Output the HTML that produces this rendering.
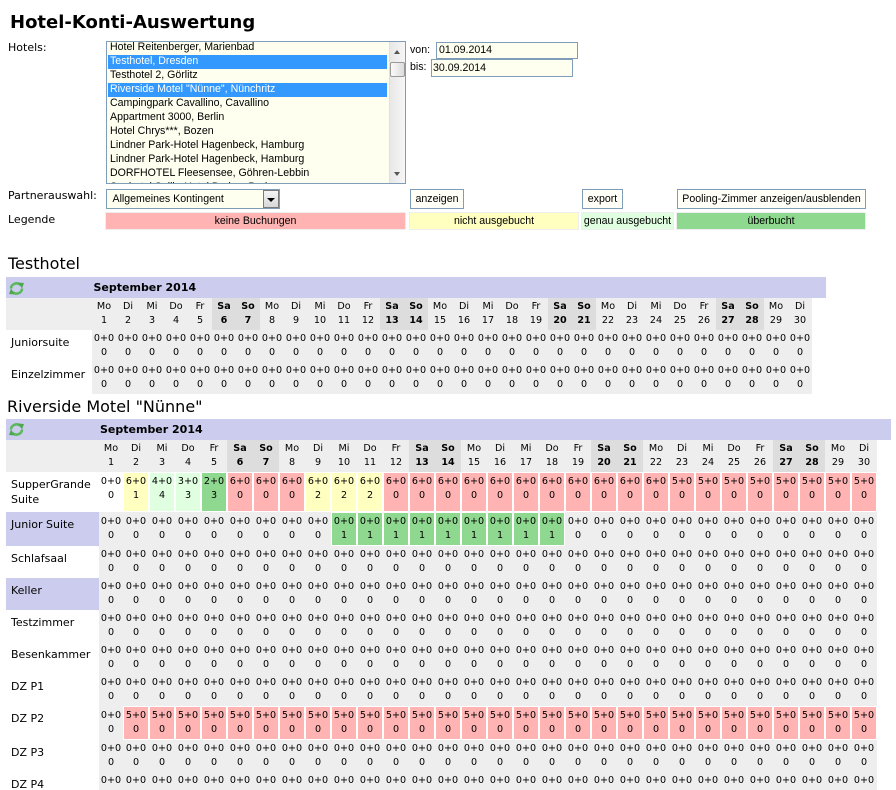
<!DOCTYPE html>
<html><head><meta charset="utf-8">
<style>
*{margin:0;padding:0;box-sizing:border-box}
html,body{width:896px;height:790px;overflow:hidden;background:#fff}
body{position:relative;font-family:"DejaVu Sans",Verdana,sans-serif;color:#000}
.a{position:absolute;white-space:nowrap}
.ls{font-family:"Liberation Sans",Arial,sans-serif;font-size:10.6px}
.lab{font-size:11px;line-height:14px}
.box{position:absolute;border:1px solid #7f9db9;background:#fffff0;overflow:hidden;white-space:nowrap}
.it{position:absolute;left:1px;width:279px;height:14px;line-height:13px;padding-left:2px}
.sel{background:#3399ff;color:#fff}
.btn{position:absolute;top:189px;height:20px;border:1px solid #7f9db9;background:#fffff8;text-align:center;line-height:18px}
.lg{position:absolute;top:212px;height:18px;border:1px solid #eee;text-align:center;line-height:16px}
.bar{position:absolute;height:21px;background:#ccccee}
.ttl{font-size:16px;line-height:20px}
.mon{font-weight:bold;font-size:11px;line-height:14px}
table{position:absolute;border-collapse:collapse;table-layout:fixed;font-size:9.6px;line-height:14px}
col{width:24px}
.rv col{width:26px}
.rv col.c0{width:93px}
.rv col.c1{width:24px}
td{padding:2px 0 0 0;vertical-align:top;text-align:center;background:#eee;white-space:nowrap;overflow:hidden}
td.l{text-align:left;background:#fff;font-size:11px;line-height:15px;padding:5px 0 0 5px}
td.lv{background:#ccccee}
td.w{background:#ddd;font-weight:bold}
tr.c td{padding-top:3px}
tr.c td.l{padding-top:5px}
td.wt{background:#fff}
td.p{background:#ffb3b3;box-shadow:inset 0 0 0 1px #fff}
td.y{background:#ffffc0;box-shadow:inset 0 0 0 1px #fff}
td.g{background:#e0ffe0;box-shadow:inset 0 0 0 1px #fff}
td.G{background:#8fd88f;box-shadow:inset 0 0 0 1px #fff}
</style></head>
<body>

<div class="a" style="left:10px;top:11.5px;font-weight:bold;font-size:18px;line-height:22px">Hotel-Konti-Auswertung</div>

<div class="a lab" style="left:8px;top:41px">Hotels:</div>
<div class="box ls" style="left:106px;top:41px;width:300px;height:143px">
  <div class="it" style="top:-1px">Hotel Reitenberger, Marienbad</div>
  <div class="it sel" style="top:13px">Testhotel, Dresden</div>
  <div class="it" style="top:27px">Testhotel 2, Görlitz</div>
  <div class="it sel" style="top:41px">Riverside Motel "Nünne", Nünchritz</div>
  <div class="it" style="top:55px">Campingpark Cavallino, Cavallino</div>
  <div class="it" style="top:69px">Appartment 3000, Berlin</div>
  <div class="it" style="top:83px">Hotel Chrys***, Bozen</div>
  <div class="it" style="top:97px">Lindner Park-Hotel Hagenbeck, Hamburg</div>
  <div class="it" style="top:111px">Lindner Park-Hotel Hagenbeck, Hamburg</div>
  <div class="it" style="top:125px">DORFHOTEL Fleesensee, Göhren-Lebbin</div>
  <div class="it" style="top:139px">Seehotel Sellin-Hotel Baden, Baden</div>
  <div style="position:absolute;left:282px;top:0;width:16px;height:141px;background:linear-gradient(to right,#e8e8e8,#f6f6f6);border-left:1px solid #e0e0e0"></div>
  <div style="position:absolute;left:287px;top:8px;width:0;height:0;border-left:3.5px solid transparent;border-right:3.5px solid transparent;border-bottom:4px solid #555"></div>
  <div style="position:absolute;left:283px;top:20px;width:15px;height:15px;border:1px solid #9a9a9a;border-radius:2px;background:linear-gradient(to right,#fafafa,#dcdcdc)"></div>
  <div style="position:absolute;left:287px;top:130px;width:0;height:0;border-left:3.5px solid transparent;border-right:3.5px solid transparent;border-top:4px solid #555"></div>
</div>

<div class="a ls" style="left:410px;top:43px;line-height:14px">von:</div>
<div class="box ls" style="left:436px;top:42px;width:142px;height:17px;line-height:15px;padding-left:2px">01.09.2014</div>
<div class="a ls" style="left:410px;top:60px;line-height:14px">bis:</div>
<div class="box ls" style="left:431px;top:59px;width:142px;height:18px;line-height:16px;padding-left:1px">30.09.2014</div>

<div class="a lab" style="left:8px;top:189px">Partnerauswahl:</div>
<div class="box ls" style="left:106px;top:189px;width:174px;height:20px;line-height:18px;padding-left:5.5px">Allgemeines Kontingent
  <div style="position:absolute;left:156px;top:0;width:16px;height:18px;border:1px solid #7a7a7a;background:linear-gradient(#f4f4f4,#d8d8d8)"></div>
  <div style="position:absolute;left:160px;top:8px;width:0;height:0;border-left:4px solid transparent;border-right:4px solid transparent;border-top:4px solid #000"></div>
</div>

<div class="btn ls" style="left:410px;width:54px">anzeigen</div>
<div class="btn ls" style="left:582px;width:41px">export</div>
<div class="btn ls" style="left:677px;width:189px">Pooling-Zimmer anzeigen/ausblenden</div>

<div class="a lab" style="left:8px;top:213px">Legende</div>
<div class="lg ls" style="left:105px;width:301px;background:#ffb3b3">keine Buchungen</div>
<div class="lg ls" style="left:409px;width:170px;background:#ffffc0">nicht ausgebucht</div>
<div class="lg ls" style="left:581px;width:93px;background:#e0ffe0">genau ausgebucht</div>
<div class="lg ls" style="left:676px;width:190px;background:#8fd88f">überbucht</div>

<!-- Testhotel -->
<div class="a ttl" style="left:8px;top:254px">Testhotel</div>
<div class="bar" style="left:6px;top:277px;width:820px"></div>
<svg class="a" style="left:8px;top:281px" width="17" height="15" viewBox="0 0 17 15">
<path d="M3 7.5 A5.5 5 0 0 1 12.5 4" fill="none" stroke="#5cb85c" stroke-width="2.6"/>
<polygon points="10,1.5 16,2 14,7.5" fill="#4ea84e"/>
<path d="M14 7.5 A5.5 5 0 0 1 4.5 11" fill="none" stroke="#5cb85c" stroke-width="2.6"/>
<polygon points="7,13.5 1,13 3,7.5" fill="#4ea84e"/>
</svg>
<div class="a mon" style="left:93.5px;top:281px">September 2014</div>

<table style="left:6px;top:298px;width:806px">
<colgroup><col style="width:86px"><col><col><col><col><col><col><col><col><col><col><col><col><col><col><col><col><col><col><col><col><col><col><col><col><col><col><col><col><col><col></colgroup>
<tr style="height:32px"><td></td><td>Mo<br>1</td><td>Di<br>2</td><td>Mi<br>3</td><td>Do<br>4</td><td>Fr<br>5</td><td class="w">Sa<br>6</td><td class="w">So<br>7</td><td>Mo<br>8</td><td>Di<br>9</td><td>Mi<br>10</td><td>Do<br>11</td><td>Fr<br>12</td><td class="w">Sa<br>13</td><td class="w">So<br>14</td><td>Mo<br>15</td><td>Di<br>16</td><td>Mi<br>17</td><td>Do<br>18</td><td>Fr<br>19</td><td class="w">Sa<br>20</td><td class="w">So<br>21</td><td>Mo<br>22</td><td>Di<br>23</td><td>Mi<br>24</td><td>Do<br>25</td><td>Fr<br>26</td><td class="w">Sa<br>27</td><td class="w">So<br>28</td><td>Mo<br>29</td><td>Di<br>30</td></tr>
<tr style="height:32px"><td class="l">Juniorsuite</td><td>0+0<br>0</td><td>0+0<br>0</td><td>0+0<br>0</td><td>0+0<br>0</td><td>0+0<br>0</td><td>0+0<br>0</td><td>0+0<br>0</td><td>0+0<br>0</td><td>0+0<br>0</td><td>0+0<br>0</td><td>0+0<br>0</td><td>0+0<br>0</td><td>0+0<br>0</td><td>0+0<br>0</td><td>0+0<br>0</td><td>0+0<br>0</td><td>0+0<br>0</td><td>0+0<br>0</td><td>0+0<br>0</td><td>0+0<br>0</td><td>0+0<br>0</td><td>0+0<br>0</td><td>0+0<br>0</td><td>0+0<br>0</td><td>0+0<br>0</td><td>0+0<br>0</td><td>0+0<br>0</td><td>0+0<br>0</td><td>0+0<br>0</td><td>0+0<br>0</td></tr>
<tr style="height:32px"><td class="l">Einzelzimmer</td><td>0+0<br>0</td><td>0+0<br>0</td><td>0+0<br>0</td><td>0+0<br>0</td><td>0+0<br>0</td><td>0+0<br>0</td><td>0+0<br>0</td><td>0+0<br>0</td><td>0+0<br>0</td><td>0+0<br>0</td><td>0+0<br>0</td><td>0+0<br>0</td><td>0+0<br>0</td><td>0+0<br>0</td><td>0+0<br>0</td><td>0+0<br>0</td><td>0+0<br>0</td><td>0+0<br>0</td><td>0+0<br>0</td><td>0+0<br>0</td><td>0+0<br>0</td><td>0+0<br>0</td><td>0+0<br>0</td><td>0+0<br>0</td><td>0+0<br>0</td><td>0+0<br>0</td><td>0+0<br>0</td><td>0+0<br>0</td><td>0+0<br>0</td><td>0+0<br>0</td></tr>
</table>

<!-- Riverside -->
<div class="a ttl" style="left:7px;top:397px">Riverside Motel "Nünne"</div>
<div class="bar" style="left:6px;top:419px;width:885px"></div>
<svg class="a" style="left:8px;top:422px" width="17" height="15" viewBox="0 0 17 15">
<path d="M3 7.5 A5.5 5 0 0 1 12.5 4" fill="none" stroke="#5cb85c" stroke-width="2.6"/>
<polygon points="10,1.5 16,2 14,7.5" fill="#4ea84e"/>
<path d="M14 7.5 A5.5 5 0 0 1 4.5 11" fill="none" stroke="#5cb85c" stroke-width="2.6"/>
<polygon points="7,13.5 1,13 3,7.5" fill="#4ea84e"/>
</svg>
<div class="a mon" style="left:100px;top:423px">September 2014</div>

<table class="rv" style="left:6px;top:440px;width:871px">
<colgroup><col class="c0"><col class="c1"><col><col><col><col><col><col><col><col><col><col><col><col><col><col><col><col><col><col><col><col><col><col><col><col><col><col><col><col><col></colgroup>
<tr style="height:32px"><td></td><td>Mo<br>1</td><td>Di<br>2</td><td>Mi<br>3</td><td>Do<br>4</td><td>Fr<br>5</td><td class="w">Sa<br>6</td><td class="w">So<br>7</td><td>Mo<br>8</td><td>Di<br>9</td><td>Mi<br>10</td><td>Do<br>11</td><td>Fr<br>12</td><td class="w">Sa<br>13</td><td class="w">So<br>14</td><td>Mo<br>15</td><td>Di<br>16</td><td>Mi<br>17</td><td>Do<br>18</td><td>Fr<br>19</td><td class="w">Sa<br>20</td><td class="w">So<br>21</td><td>Mo<br>22</td><td>Di<br>23</td><td>Mi<br>24</td><td>Do<br>25</td><td>Fr<br>26</td><td class="w">Sa<br>27</td><td class="w">So<br>28</td><td>Mo<br>29</td><td>Di<br>30</td></tr>
<tr class="c" style="height:40px"><td class="l">SupperGrande<br>Suite</td><td class="wt">0+0<br>0</td><td class="y">6+0<br>1</td><td class="g">4+0<br>4</td><td class="g">3+0<br>3</td><td class="G">2+0<br>3</td><td class="p">6+0<br>0</td><td class="p">6+0<br>0</td><td class="p">6+0<br>0</td><td class="y">6+0<br>2</td><td class="y">6+0<br>2</td><td class="y">6+0<br>2</td><td class="p">6+0<br>0</td><td class="p">6+0<br>0</td><td class="p">6+0<br>0</td><td class="p">6+0<br>0</td><td class="p">6+0<br>0</td><td class="p">6+0<br>0</td><td class="p">6+0<br>0</td><td class="p">6+0<br>0</td><td class="p">6+0<br>0</td><td class="p">6+0<br>0</td><td class="p">6+0<br>0</td><td class="p">5+0<br>0</td><td class="p">5+0<br>0</td><td class="p">5+0<br>0</td><td class="p">5+0<br>0</td><td class="p">5+0<br>0</td><td class="p">5+0<br>0</td><td class="p">5+0<br>0</td><td class="p">5+0<br>0</td></tr>
<tr class="c" style="height:34px"><td class="l lv">Junior Suite</td><td>0+0<br>0</td><td>0+0<br>0</td><td>0+0<br>0</td><td>0+0<br>0</td><td>0+0<br>0</td><td>0+0<br>0</td><td>0+0<br>0</td><td>0+0<br>0</td><td>0+0<br>0</td><td class="G">0+0<br>1</td><td class="G">0+0<br>1</td><td class="G">0+0<br>1</td><td class="G">0+0<br>1</td><td class="G">0+0<br>1</td><td class="G">0+0<br>1</td><td class="G">0+0<br>1</td><td class="G">0+0<br>1</td><td class="G">0+0<br>1</td><td>0+0<br>0</td><td>0+0<br>0</td><td>0+0<br>0</td><td>0+0<br>0</td><td>0+0<br>0</td><td>0+0<br>0</td><td>0+0<br>0</td><td>0+0<br>0</td><td>0+0<br>0</td><td>0+0<br>0</td><td>0+0<br>0</td><td>0+0<br>0</td></tr>
<tr style="height:32px"><td class="l">Schlafsaal</td><td>0+0<br>0</td><td>0+0<br>0</td><td>0+0<br>0</td><td>0+0<br>0</td><td>0+0<br>0</td><td>0+0<br>0</td><td>0+0<br>0</td><td>0+0<br>0</td><td>0+0<br>0</td><td>0+0<br>0</td><td>0+0<br>0</td><td>0+0<br>0</td><td>0+0<br>0</td><td>0+0<br>0</td><td>0+0<br>0</td><td>0+0<br>0</td><td>0+0<br>0</td><td>0+0<br>0</td><td>0+0<br>0</td><td>0+0<br>0</td><td>0+0<br>0</td><td>0+0<br>0</td><td>0+0<br>0</td><td>0+0<br>0</td><td>0+0<br>0</td><td>0+0<br>0</td><td>0+0<br>0</td><td>0+0<br>0</td><td>0+0<br>0</td><td>0+0<br>0</td></tr>
<tr style="height:32px"><td class="l lv">Keller</td><td>0+0<br>0</td><td>0+0<br>0</td><td>0+0<br>0</td><td>0+0<br>0</td><td>0+0<br>0</td><td>0+0<br>0</td><td>0+0<br>0</td><td>0+0<br>0</td><td>0+0<br>0</td><td>0+0<br>0</td><td>0+0<br>0</td><td>0+0<br>0</td><td>0+0<br>0</td><td>0+0<br>0</td><td>0+0<br>0</td><td>0+0<br>0</td><td>0+0<br>0</td><td>0+0<br>0</td><td>0+0<br>0</td><td>0+0<br>0</td><td>0+0<br>0</td><td>0+0<br>0</td><td>0+0<br>0</td><td>0+0<br>0</td><td>0+0<br>0</td><td>0+0<br>0</td><td>0+0<br>0</td><td>0+0<br>0</td><td>0+0<br>0</td><td>0+0<br>0</td></tr>
<tr style="height:32px"><td class="l">Testzimmer</td><td>0+0<br>0</td><td>0+0<br>0</td><td>0+0<br>0</td><td>0+0<br>0</td><td>0+0<br>0</td><td>0+0<br>0</td><td>0+0<br>0</td><td>0+0<br>0</td><td>0+0<br>0</td><td>0+0<br>0</td><td>0+0<br>0</td><td>0+0<br>0</td><td>0+0<br>0</td><td>0+0<br>0</td><td>0+0<br>0</td><td>0+0<br>0</td><td>0+0<br>0</td><td>0+0<br>0</td><td>0+0<br>0</td><td>0+0<br>0</td><td>0+0<br>0</td><td>0+0<br>0</td><td>0+0<br>0</td><td>0+0<br>0</td><td>0+0<br>0</td><td>0+0<br>0</td><td>0+0<br>0</td><td>0+0<br>0</td><td>0+0<br>0</td><td>0+0<br>0</td></tr>
<tr style="height:32px"><td class="l">Besenkammer</td><td>0+0<br>0</td><td>0+0<br>0</td><td>0+0<br>0</td><td>0+0<br>0</td><td>0+0<br>0</td><td>0+0<br>0</td><td>0+0<br>0</td><td>0+0<br>0</td><td>0+0<br>0</td><td>0+0<br>0</td><td>0+0<br>0</td><td>0+0<br>0</td><td>0+0<br>0</td><td>0+0<br>0</td><td>0+0<br>0</td><td>0+0<br>0</td><td>0+0<br>0</td><td>0+0<br>0</td><td>0+0<br>0</td><td>0+0<br>0</td><td>0+0<br>0</td><td>0+0<br>0</td><td>0+0<br>0</td><td>0+0<br>0</td><td>0+0<br>0</td><td>0+0<br>0</td><td>0+0<br>0</td><td>0+0<br>0</td><td>0+0<br>0</td><td>0+0<br>0</td></tr>
<tr style="height:32px"><td class="l">DZ P1</td><td>0+0<br>0</td><td>0+0<br>0</td><td>0+0<br>0</td><td>0+0<br>0</td><td>0+0<br>0</td><td>0+0<br>0</td><td>0+0<br>0</td><td>0+0<br>0</td><td>0+0<br>0</td><td>0+0<br>0</td><td>0+0<br>0</td><td>0+0<br>0</td><td>0+0<br>0</td><td>0+0<br>0</td><td>0+0<br>0</td><td>0+0<br>0</td><td>0+0<br>0</td><td>0+0<br>0</td><td>0+0<br>0</td><td>0+0<br>0</td><td>0+0<br>0</td><td>0+0<br>0</td><td>0+0<br>0</td><td>0+0<br>0</td><td>0+0<br>0</td><td>0+0<br>0</td><td>0+0<br>0</td><td>0+0<br>0</td><td>0+0<br>0</td><td>0+0<br>0</td></tr>
<tr class="c" style="height:34px"><td class="l">DZ P2</td><td>0+0<br>0</td><td class="p">5+0<br>0</td><td class="p">5+0<br>0</td><td class="p">5+0<br>0</td><td class="p">5+0<br>0</td><td class="p">5+0<br>0</td><td class="p">5+0<br>0</td><td class="p">5+0<br>0</td><td class="p">5+0<br>0</td><td class="p">5+0<br>0</td><td class="p">5+0<br>0</td><td class="p">5+0<br>0</td><td class="p">5+0<br>0</td><td class="p">5+0<br>0</td><td class="p">5+0<br>0</td><td class="p">5+0<br>0</td><td class="p">5+0<br>0</td><td class="p">5+0<br>0</td><td class="p">5+0<br>0</td><td class="p">5+0<br>0</td><td class="p">5+0<br>0</td><td class="p">5+0<br>0</td><td class="p">5+0<br>0</td><td class="p">5+0<br>0</td><td class="p">5+0<br>0</td><td class="p">5+0<br>0</td><td class="p">5+0<br>0</td><td class="p">5+0<br>0</td><td class="p">5+0<br>0</td><td class="p">5+0<br>0</td></tr>
<tr style="height:32px"><td class="l">DZ P3</td><td>0+0<br>0</td><td>0+0<br>0</td><td>0+0<br>0</td><td>0+0<br>0</td><td>0+0<br>0</td><td>0+0<br>0</td><td>0+0<br>0</td><td>0+0<br>0</td><td>0+0<br>0</td><td>0+0<br>0</td><td>0+0<br>0</td><td>0+0<br>0</td><td>0+0<br>0</td><td>0+0<br>0</td><td>0+0<br>0</td><td>0+0<br>0</td><td>0+0<br>0</td><td>0+0<br>0</td><td>0+0<br>0</td><td>0+0<br>0</td><td>0+0<br>0</td><td>0+0<br>0</td><td>0+0<br>0</td><td>0+0<br>0</td><td>0+0<br>0</td><td>0+0<br>0</td><td>0+0<br>0</td><td>0+0<br>0</td><td>0+0<br>0</td><td>0+0<br>0</td></tr>
<tr style="height:32px"><td class="l">DZ P4</td><td>0+0<br>0</td><td>0+0<br>0</td><td>0+0<br>0</td><td>0+0<br>0</td><td>0+0<br>0</td><td>0+0<br>0</td><td>0+0<br>0</td><td>0+0<br>0</td><td>0+0<br>0</td><td>0+0<br>0</td><td>0+0<br>0</td><td>0+0<br>0</td><td>0+0<br>0</td><td>0+0<br>0</td><td>0+0<br>0</td><td>0+0<br>0</td><td>0+0<br>0</td><td>0+0<br>0</td><td>0+0<br>0</td><td>0+0<br>0</td><td>0+0<br>0</td><td>0+0<br>0</td><td>0+0<br>0</td><td>0+0<br>0</td><td>0+0<br>0</td><td>0+0<br>0</td><td>0+0<br>0</td><td>0+0<br>0</td><td>0+0<br>0</td><td>0+0<br>0</td></tr>
</table>

</body></html>
